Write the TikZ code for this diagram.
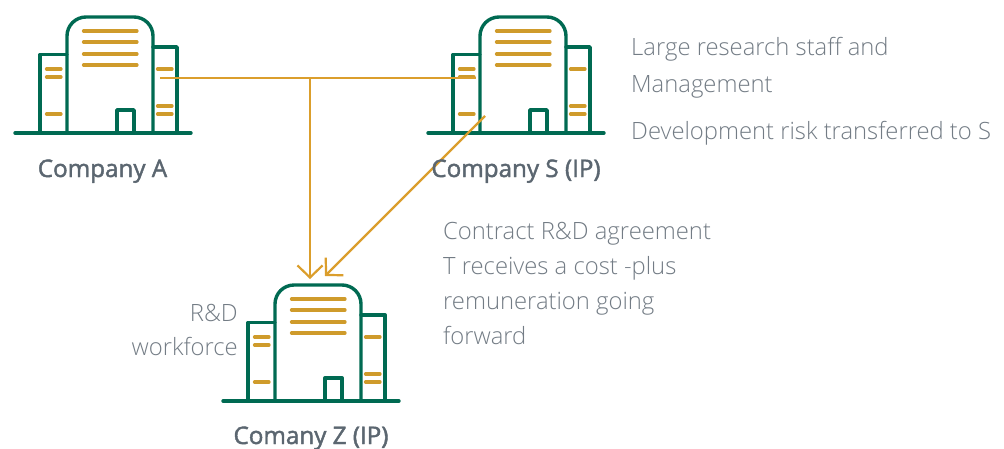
\documentclass[tikz,border=0pt]{standalone}
\usepackage{fontspec}
\setmainfont{Open Sans}
\newfontfamily\lightfont{Open Sans Light}
\newfontfamily\semifont[FakeBold=1.8]{Open Sans}
\usetikzlibrary{arrows.meta}
\definecolor{bgreen}{HTML}{006A52}
\definecolor{bgold}{HTML}{CF9B2B}
\definecolor{conn}{HTML}{DB9E2C}
\definecolor{lighttxt}{HTML}{737C85}
\definecolor{boldtxt}{HTML}{5B6670}
\tikzset{
  x=1pt,y=-1pt,
  wall/.style={draw=bgreen,line width=3.4pt,line cap=round,line join=round},
  stripe/.style={draw=bgold,line width=3.2pt,line cap=round},
  link/.style={draw=conn,line width=2.2pt},
  arrowlink/.style={link,-{Straight Barb[length=12pt,width=25pt,line width=2.2pt]}},
  desc/.style={anchor=base west,text=lighttxt,font=\lightfont\fontsize{23.8}{26}\selectfont,inner sep=0pt},
  title/.style={anchor=base,text=boldtxt,font=\semifont\fontsize{24.2}{26}\selectfont,inner sep=0pt},
  pics/building/.style={code={
    \draw[wall] (15,133) -- (191,133);
    \draw[wall,rounded corners=19pt] (67,133) -- (67,17) -- (153,17) -- (153,133);
    \draw[wall] (67,54.5) -- (40,54.5) -- (40,133);
    \draw[wall] (153,47) -- (177,47) -- (177,133);
    \draw[wall] (117,133) -- (117,110) -- (134,110) -- (134,133);
    \foreach \yy in {31,42,54,65} \draw[stripe] (83.5,\yy) -- (137,\yy);
    \foreach \yy in {69,77,114} \draw[stripe] (46.5,\yy) -- (61,\yy);
    \foreach \yy in {69,106,114} \draw[stripe] (157.5,\yy) -- (172,\yy);
  }}
}
\begin{document}
\begin{tikzpicture}
\useasboundingbox (0,0) rectangle (1004,448);
\fill[white] (0,0) rectangle (1004,448);
\pic at (0,0) {building};
\pic at (413,0) {building};
\pic at (208,268) {building};
\coordinate (aout) at (160,78);
\coordinate (sin) at (476,78);
\coordinate (junction) at (310,78);
\coordinate (ztop) at (310,279);
\coordinate (sout) at (485,116);
\coordinate (ztop2) at (325,276);
\draw[link] (aout) -- (sin);
\draw[arrowlink] (junction) -- (ztop);
\draw[arrowlink] (sout) -- (ztop2);
\node[title] (ta) at (102.5,177) {Company A};
\node[title] (ts) at (516,177) {Company S (IP)};
\node[title] (tz) at (311,444) {Comany Z (IP)};
\node[desc] (d1) at (631,55) {Large research staff and};
\node[desc] (d2) at (631,92) {Management};
\node[desc] (d3) at (631,139) {Development risk transferred to S};
\node[desc] (c1) at (443,239) {Contract R\&D agreement};
\node[desc] (c2) at (443,274) {T receives a cost -plus};
\node[desc] (c3) at (443,309) {remuneration going};
\node[desc] (c4) at (443,344) {forward};
\node[desc,anchor=base east] (r1) at (238,321) {R\&D};
\node[desc,anchor=base east] (r2) at (238,355) {workforce};
\end{tikzpicture}
\end{document}
